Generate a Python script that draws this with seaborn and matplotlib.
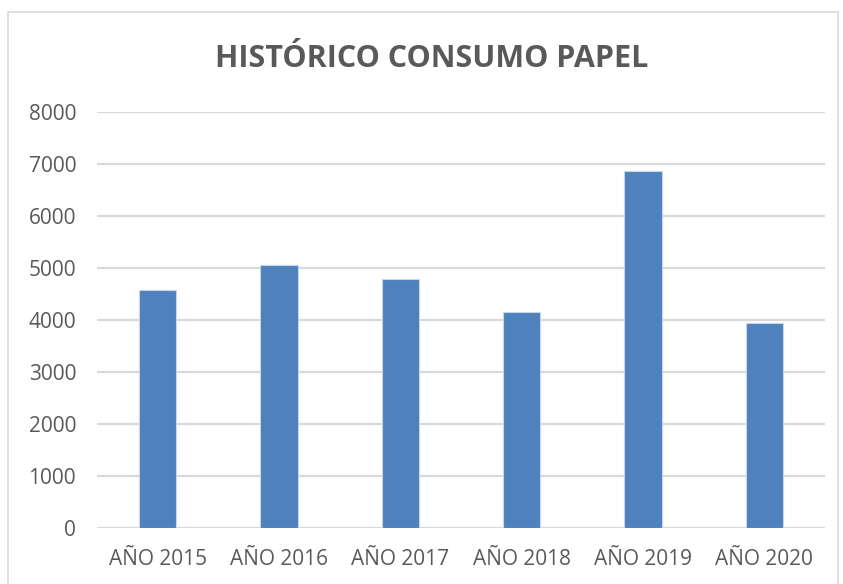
import matplotlib
matplotlib.use("Agg")
import matplotlib.pyplot as plt
import seaborn as sns
import pandas as pd
from matplotlib.patches import Rectangle

categories = ["AÑO 2015", "AÑO 2016", "AÑO 2017", "AÑO 2018", "AÑO 2019", "AÑO 2020"]
values = [4570, 5050, 4790, 4150, 6870, 3950]
yticks = [0, 1000, 2000, 3000, 4000, 5000, 6000, 7000, 8000]

sns.set_theme(style="white")
plt.rcParams['font.family'] = ['Open Sans', 'DejaVu Sans']

df = pd.DataFrame({"cat": categories, "val": values})

fig = plt.figure(figsize=(8.43, 5.84), dpi=100)
ax = fig.add_axes([97/843, 1 - 528/584, (825 - 97)/843, (528 - 112)/584])

sns.barplot(data=df, x="cat", y="val", color="#4f81bd", saturation=1, width=0.31,
            edgecolor="#c5d5ea", linewidth=0.8, ax=ax, zorder=3)

ax.set_ylim(0, 8000)
ax.set_yticks(yticks)
ax.set_yticklabels([str(t) for t in yticks])
ax.yaxis.grid(True, color="#d9d9d9", linewidth=1.6, zorder=0)
ax.set_axisbelow(True)
for s in ax.spines.values():
    s.set_visible(False)
ax.tick_params(axis="both", length=0, labelsize=15, colors="#595959")
ax.tick_params(axis="y", pad=15)
ax.tick_params(axis="x", pad=15)
ax.set_xlabel("")
ax.set_ylabel("")
ax.set_xlim(-0.5, 5.5)

fig.text(432/843, 1 - 59/584, "HISTÓRICO CONSUMO PAPEL", ha="center", va="center",
         fontsize=22, fontweight="bold", color="#595959")

fig.patches.append(Rectangle((8/843, -0.01), (838 - 8)/843, 1 - 12/584 + 0.01,
                             transform=fig.transFigure, fill=False,
                             edgecolor="#d9d9d9", linewidth=1.2))

fig.savefig("out.png", dpi=100)
